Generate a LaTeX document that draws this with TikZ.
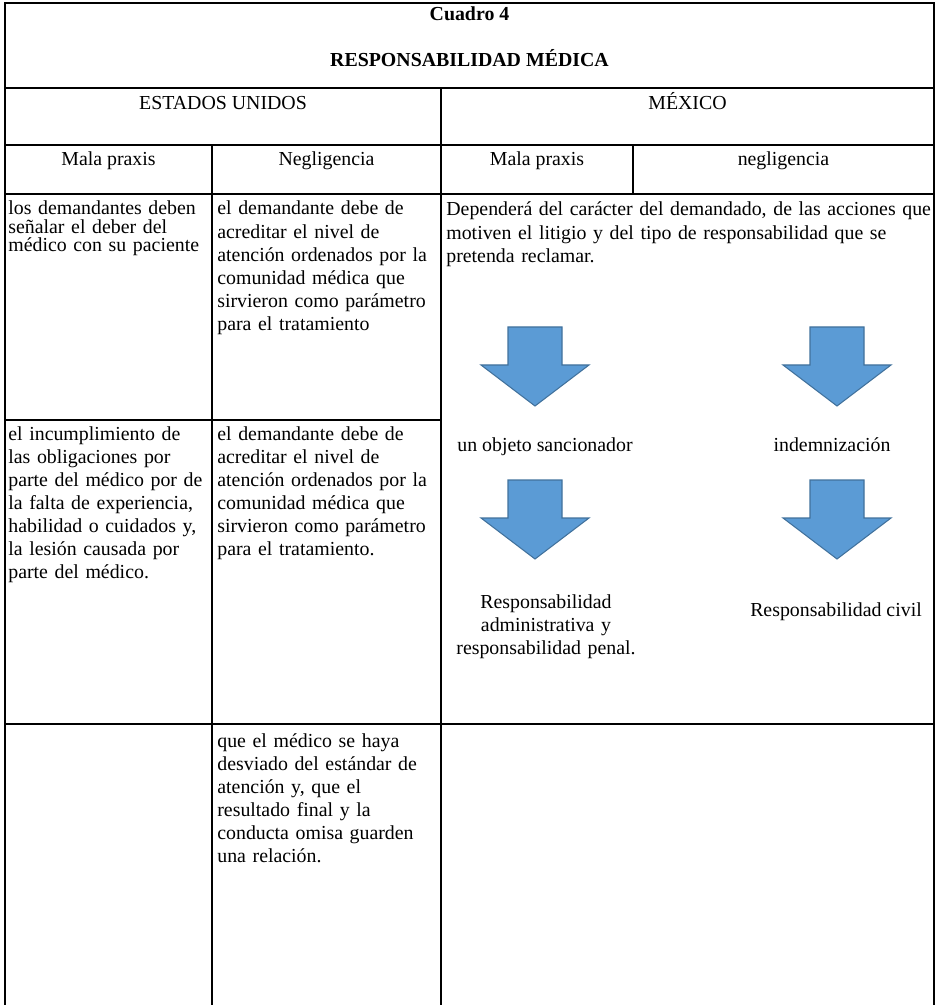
\documentclass[tikz,border=0pt]{standalone}
\usepackage{fontspec}
\setmainfont{Liberation Serif}

\definecolor{arrowfill}{HTML}{5B9BD5}
\definecolor{arrowline}{HTML}{41719C}
\newcommand{\cellfont}{\fontsize{11.3}{13.1}\selectfont}
\newcommand{\tightfont}{\fontsize{11.3}{10.4}\selectfont}

\begin{document}
\begin{tikzpicture}[x=0.2mm, y=-0.2mm,
    rule/.style={line width=0.6pt},
    head/.style={font=\cellfont, inner sep=0pt, anchor=base},
    cell/.style={font=\cellfont, inner sep=0pt, anchor=base west, text width=#1, align=left},
    blockarrow/.style={fill=arrowfill, draw=arrowline, line width=0.6pt, line join=miter}]
    \useasboundingbox (0,0) rectangle (937,1005);

    % table rules
    \draw[rule] (5,1005) -- (5,3) -- (934,3) -- (934,1005);
    \draw[rule] (5,88) -- (934,88);
    \draw[rule] (5,145) -- (934,145);
    \draw[rule] (5,194) -- (934,194);
    \draw[rule] (5,420) -- (441,420);
    \draw[rule] (5,724) -- (934,724);
    \draw[rule] (441,88) -- (441,1005);
    \draw[rule] (212,145) -- (212,1005);
    \draw[rule] (633,145) -- (633,194);

    % headings
    \node[head, font=\cellfont\bfseries] (cuadro) at (469.5,21) {Cuadro 4};
    \node[head, font=\cellfont\bfseries] (titulo) at (469.5,67) {RESPONSABILIDAD MÉDICA};
    \node[head] (eu) at (223,110) {ESTADOS UNIDOS};
    \node[head] (mx) at (687.5,110) {MÉXICO};
    \node[head] (eumala) at (108.5,166) {Mala praxis};
    \node[head] (euneg) at (326.5,166) {Negligencia};
    \node[head] (mxmala) at (537,166) {Mala praxis};
    \node[head] (mxneg) at (783.5,166) {negligencia};

    % estados unidos
    \node[cell=44mm, font=\tightfont] (deber) at (8,215)
      {los demandantes deben\\señalar el deber del\\médico con su paciente};
    \node[cell=44mm] (nivel) at (217,215)
      {el demandante debe de\\acreditar el nivel de\\atención ordenados por la\\comunidad médica que\\sirvieron como parámetro\\para el tratamiento};
    \node[cell=44mm] (incumple) at (8,440)
      {el incumplimiento de\\las obligaciones por\\parte del médico por de\\la falta de experiencia,\\habilidad o cuidados y,\\la lesión causada por\\parte del médico.};
    \node[cell=44mm] (nivelb) at (217,440)
      {el demandante debe de\\acreditar el nivel de\\atención ordenados por la\\comunidad médica que\\sirvieron como parámetro\\para el tratamiento.};
    \node[cell=44mm] (desvio) at (217,747)
      {que el médico se haya\\desviado del estándar de\\atención y, que el\\resultado final y la\\conducta omisa guarden\\una relación.};

    % méxico
    \node[cell=120mm] (depende) at (446,216)
      {Dependerá del carácter del demandado, de las acciones que\\motiven el litigio y del tipo de responsabilidad que se\\pretenda reclamar.};

    \begin{scope}[shift={(535,327)}]
      \filldraw[blockarrow] (-27,0) -- (27,0) -- (27,38) -- (54,38) -- (0,79) -- (-54,38) -- (-27,38) -- cycle;
    \end{scope}
    \begin{scope}[shift={(837,327)}]
      \filldraw[blockarrow] (-27,0) -- (27,0) -- (27,38) -- (54,38) -- (0,79) -- (-54,38) -- (-27,38) -- cycle;
    \end{scope}

    \node[head] (sancion) at (545,451) {un objeto sancionador};
    \node[head] (indemn) at (832,451) {indemnización};

    \begin{scope}[shift={(535,480)}]
      \filldraw[blockarrow] (-27,0) -- (27,0) -- (27,38) -- (54,38) -- (0,79) -- (-54,38) -- (-27,38) -- cycle;
    \end{scope}
    \begin{scope}[shift={(837,480)}]
      \filldraw[blockarrow] (-27,0) -- (27,0) -- (27,38) -- (54,38) -- (0,79) -- (-54,38) -- (-27,38) -- cycle;
    \end{scope}

    \node[head, text width=40mm, align=center] (penal) at (546,608)
      {Responsabilidad\\administrativa y\\responsabilidad penal.};
    \node[head] (civil) at (836,616) {Responsabilidad civil};
  \end{tikzpicture}
\end{document}
